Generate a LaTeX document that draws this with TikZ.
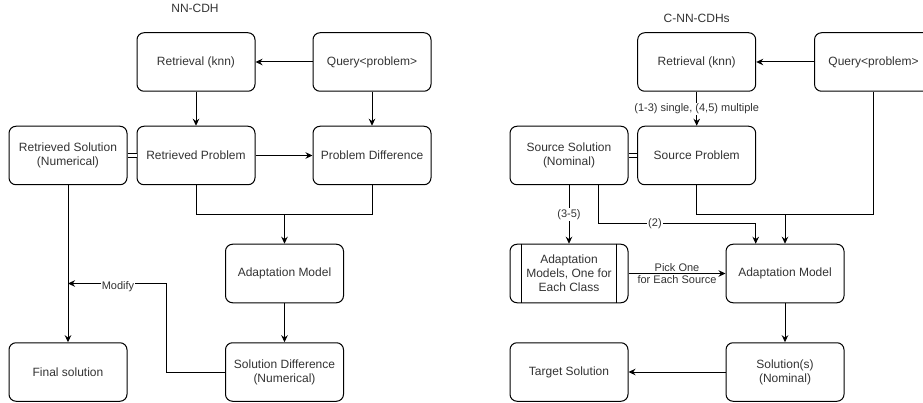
\documentclass[tikz,border=0pt]{standalone}
\usepackage{fontspec}
\setmainfont{Liberation Sans}
\usepackage{tikz}
\usetikzlibrary{arrows.meta,calc}

\tikzset{
    box/.style={draw, rounded corners=7pt, minimum width=118pt, minimum height=58.5pt,
        align=center, inner sep=2pt, font=\fontsize{12}{14}\selectfont, text=black!80},
    arr/.style={-{Stealth[length=7pt,width=6.5pt]}},
    lbl/.style={font=\fontsize{11}{12.5}\selectfont, text=black!80, inner sep=1pt, align=center},
    ttl/.style={font=\fontsize{12}{14}\selectfont, text=black!80},
}

\begin{document}
\begin{tikzpicture}[x=1pt, y=-1pt, line width=1pt]
\useasboundingbox (0,0) rectangle (923,403);
\clip (0,0) rectangle (923,403);

% NN-CDH
\node[ttl] (t1) at (195,8.5) {NN-CDH};
\node[box] (rk) at (196,62) {Retrieval (knn)};
\node[box] (q) at (372,62) {Query<problem>};
\node[box] (rs) at (68,155.5) {Retrieved Solution\\(Numerical)};
\node[box] (rp) at (196,155.5) {Retrieved Problem};
\node[box] (pd) at (372,155.5) {Problem Difference};
\node[box] (am) at (284.5,273.5) {Adaptation Model};
\node[box] (sd) at (284.5,372) {Solution Difference\\(Numerical)};
\node[box] (fs) at (68,372) {Final solution};

\draw[arr] (q.west) -- (rk.east);
\draw[arr] (rk.south) -- (rp.north);
\draw[arr] (q.south) -- (pd.north);
\draw[arr] (rp.east) -- (pd.west);
\draw[double, double distance=2.5pt, line width=0.8pt] (rs.east) -- (rp.west);
\coordinate (j1) at (284.5,214.5);
\draw (rp.south) |- (j1) -| (pd.south);
\draw[arr] (j1) -- (am.north);
\draw[arr] (am.south) -- (sd.north);
\draw[arr] (rs.south) -- (fs.north);
\coordinate (mb) at (166.5,283.5);
\draw[arr] (sd.west) -| (mb) -- (mb -| rs.south);
\node[lbl, fill=white] (mod) at (118,287) {Modify};

% C-NN-CDHs
\node[ttl] (t2) at (696.7,18.5) {C-NN-CDHs};
\node[box] (rk2) at (696.7,62) {Retrieval (knn)};
\node[box] (q2) at (873.5,62) {Query<problem>};
\node[box] (ss) at (569,155.5) {Source Solution\\(Nominal)};
\node[box] (sp) at (696.7,155.5) {Source Problem};
\node[box] (ams) at (569,273.5) {Adaptation\\Models, One for\\Each Class};
\draw ([xshift=12.3pt]ams.north west) -- ([xshift=12.3pt]ams.south west);
\draw ([xshift=-12.3pt]ams.north east) -- ([xshift=-12.3pt]ams.south east);
\node[box] (am2) at (785,273.5) {Adaptation Model};
\node[box] (sol) at (785,372) {Solution(s)\\(Nominal)};
\node[box] (ts) at (569,372) {Target Solution};

\draw[arr] (q2.west) -- (rk2.east);
\draw[arr] (rk2.south) -- (sp.north)
    node[lbl, fill=white, pos=0.5] (l13) {(1-3) single, (4,5) multiple};
\draw[double, double distance=2.5pt, line width=0.8pt] (ss.east) -- (sp.west);
\draw[arr] (ss.south) -- (ams.north)
    node[lbl, fill=white, pos=0.5] (l35) {(3-5)};
\coordinate (s2) at ($(ss.south)+(29.3,0)$);
\coordinate (b2) at (598.3,223.3);
\draw[arr] (s2) -- (b2) -| ([xshift=-29.3pt]am2.north)
    node[lbl, fill=white, pos=0.18] (l2) {(2)};
\coordinate (j2) at (785,214.3);
\draw (sp.south) |- (j2) -| (q2.south);
\draw[arr] (j2) -- (am2.north);
\draw[arr] (ams.east) -- (am2.west)
    node[lbl, pos=0.5] (pick) {Pick One\\for Each Source};
\draw[arr] (am2.south) -- (sol.north);
\draw[arr] (sol.west) -- (ts.east);

\end{tikzpicture}
\end{document}
